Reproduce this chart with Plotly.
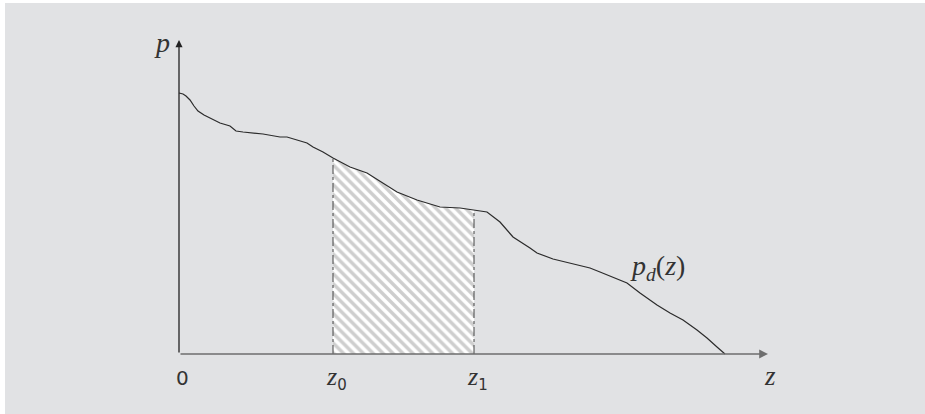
import plotly.graph_objects as go

# Curve p_d(z) (arbitrary units)
z_vals = [0, 0.04, 0.07, 0.11, 0.15, 0.19, 0.25, 0.31, 0.41, 0.51, 0.54, 0.57, 0.64, 0.84, 1.01, 1.08,
          1.18, 1.28, 1.34, 1.44, 1.54, 1.71, 1.88, 2.04, 2.18, 2.38, 2.61, 2.81, 2.95, 3.08, 3.21, 3.34,
          3.51, 3.58, 3.74, 3.94, 4.11, 4.21, 4.34, 4.48, 4.61, 4.78, 4.91, 5.04, 5.18, 5.28, 5.38, 5.46]
p_vals = [2.61, 2.60, 2.58, 2.54, 2.48, 2.43, 2.39, 2.36, 2.31, 2.28, 2.25, 2.23, 2.22, 2.20, 2.17, 2.17,
          2.14, 2.11, 2.07, 2.02, 1.96, 1.87, 1.81, 1.71, 1.62, 1.54, 1.47, 1.46, 1.44, 1.42, 1.32, 1.17,
          1.06, 1.01, 0.95, 0.90, 0.86, 0.82, 0.77, 0.71, 0.61, 0.49, 0.41, 0.34, 0.24, 0.16, 0.07, 0.00]

z0 = 1.54
z1 = 2.95
z_axis_end = 5.89
p_axis_end = 3.14

sub_style = "font-family:DejaVu Sans;font-size:15px"
tick_positions = [0, z0, z1]
tick_labels = ["0",
               "<i>z</i><sub><span style='" + sub_style + "'>0</span></sub>",
               "<i>z</i><sub><span style='" + sub_style + "'>1</span></sub>"]

i0 = z_vals.index(z0)
i1 = z_vals.index(z1)
p_at_z0 = p_vals[i0]
p_at_z1 = p_vals[i1]

fig = go.Figure()

# hatched area between z0 and z1
fig.add_trace(go.Scatter(
    x=z_vals[i0:i1 + 1], y=p_vals[i0:i1 + 1], mode="lines", fill="tozeroy",
    line=dict(width=0, color="rgba(0,0,0,0)"),
    fillcolor="white",
    fillpattern=dict(shape="\\", fgcolor="#9e9e9e", bgcolor="white", size=7, solidity=0.5),
    hoverinfo="skip", showlegend=False))

# dash-dot verticals
for zz, pp in [(z0, p_at_z0), (z1, p_at_z1)]:
    fig.add_trace(go.Scatter(x=[zz, zz], y=[0, pp], mode="lines",
                             line=dict(color="#444", width=1, dash="dashdot"),
                             hoverinfo="skip", showlegend=False))

# curve
fig.add_trace(go.Scatter(x=z_vals, y=p_vals, mode="lines",
                         line=dict(color="#2b2b2b", width=1.2),
                         hoverinfo="skip", showlegend=False))

serif = "Liberation Serif"
sans = "DejaVu Sans"
annotations = []
# axes as arrows
annotations.append(dict(x=z_axis_end, y=0, ax=0, ay=0, xref="x", yref="y", axref="x", ayref="y",
                        showarrow=True, arrowhead=2, arrowsize=1.1, arrowwidth=1.6,
                        arrowcolor="#6e6e6e", text=""))
annotations.append(dict(x=0, y=p_axis_end, ax=0, ay=0, xref="x", yref="y", axref="x", ayref="y",
                        showarrow=True, arrowhead=2, arrowsize=1.1, arrowwidth=1.3,
                        arrowcolor="#222", text=""))
# tick labels
for pos, lab in zip(tick_positions, tick_labels):
    annotations.append(dict(x=pos + 0.03, y=-0.24, xref="x", yref="y", text=lab,
                            showarrow=False,
                            font=dict(family=serif if pos else sans, size=26 if pos else 20, color="#333")))
annotations.append(dict(x=5.91, y=-0.22, xref="x", yref="y", text="<i>z</i>", showarrow=False,
                        font=dict(family=serif, size=27, color="#333")))
annotations.append(dict(x=-0.17, y=3.12, xref="x", yref="y", text="<i>p</i>", showarrow=False,
                        font=dict(family=serif, size=28, color="#333")))
annotations.append(dict(x=4.78, y=0.87, xref="x", yref="y", text="<i>p</i><sub><i>d</i></sub>(<i>z</i>)",
                        showarrow=False, font=dict(family=serif, size=28, color="#333")))

fig.update_layout(
    width=925, height=414,
    margin=dict(l=0, r=0, t=0, b=0),
    paper_bgcolor="white", plot_bgcolor="white",
    xaxis=dict(range=[-1.79, 7.46], visible=False, fixedrange=True),
    yaxis=dict(range=[-0.60, 3.54], visible=False, fixedrange=True),
    shapes=[dict(type="rect", xref="paper", yref="paper", x0=5 / 925, x1=1.0, y0=-0.01, y1=411 / 414,
                 fillcolor="#e1e2e4", line=dict(width=0), layer="below")],
    annotations=annotations,
    showlegend=False,
)

fig.write_html("out.html", config={"displayModeBar": False},
               post_script="document.body.style.margin='0';document.body.style.padding='0';"
                           "document.body.style.overflow='hidden';"
                           "document.documentElement.style.overflow='hidden';")
